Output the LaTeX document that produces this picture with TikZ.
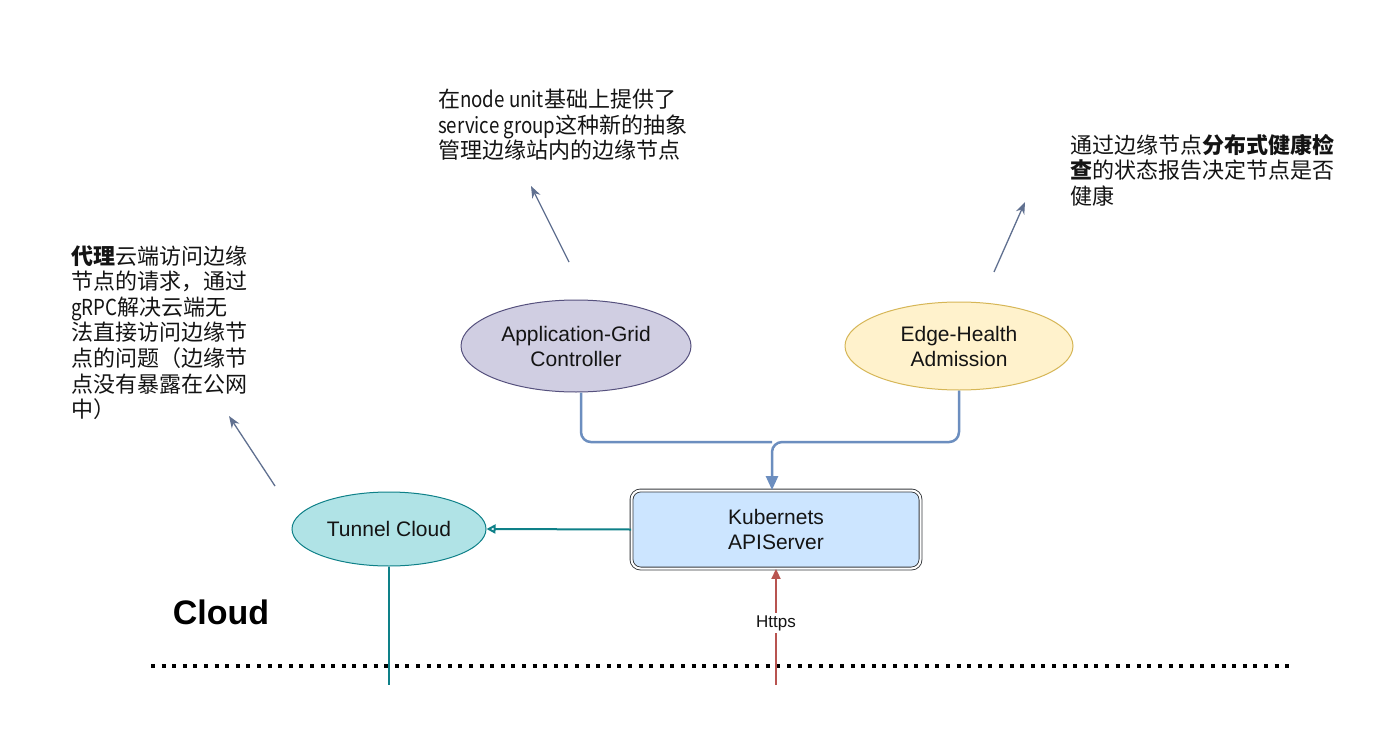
\documentclass[tikz,border=0pt]{standalone}
\usepackage{fontspec}
\setmainfont{Liberation Sans}
\newfontfamily\cjk{Noto Sans CJK SC}
\newfontfamily\cjklat[FakeStretch=0.85]{Noto Sans CJK SC}
\newcommand{\lt}[1]{{\cjklat #1}}
\usetikzlibrary{arrows.meta,shapes.geometric}
\definecolor{tcfill}{RGB}{176,227,230}
\definecolor{tcline}{RGB}{14,128,136}
\definecolor{agfill}{RGB}{208,206,226}
\definecolor{agline}{RGB}{86,81,126}
\definecolor{ehfill}{RGB}{255,242,204}
\definecolor{ehline}{RGB}{214,182,86}
\definecolor{apifill}{RGB}{204,229,255}
\definecolor{apiline}{RGB}{54,57,61}
\definecolor{blueln}{RGB}{108,142,191}
\definecolor{redln}{RGB}{184,84,80}
\definecolor{noteln}{RGB}{96,112,144}
\definecolor{txt}{RGB}{20,20,20}
\tikzset{
  ell/.style={ellipse, draw, line width=1pt, inner sep=0pt, align=center, text=txt,
    font=\fontsize{21}{25}\selectfont},
  note/.style={anchor=north west, inner sep=0pt, align=left, text=txt,
    font=\cjk\fontsize{22}{25.6}\selectfont},
  notearrow/.style={draw=noteln, line width=1.3pt, -{Stealth[length=12pt,width=9pt]}},
  bluearrow/.style={draw=blueln, line width=2.5pt, rounded corners=10pt},
}
\begin{document}
\begin{tikzpicture}[x=1pt,y=-1pt]
\useasboundingbox[fill=white] (0,0) rectangle (1400,744);
% nodes
\node[ell, fill=agfill, draw=agline, minimum width=230pt, minimum height=92pt] (ag) at (576,346) {Application-Grid\\Controller};
\node[ell, fill=ehfill, draw=ehline, minimum width=228pt, minimum height=88pt] (eh) at (959,346) {Edge-Health\\Admission};
\node[ell, fill=tcfill, draw=tcline, minimum width=194pt, minimum height=74pt] (tc) at (389,529) {Tunnel Cloud};
\node[draw=apiline, fill=apifill, double, double distance=2pt, line width=0.9pt, rounded corners=9pt,
  minimum width=289pt, minimum height=78pt, align=center, text=txt,
  font=\fontsize{21}{25}\selectfont] (api) at (776,529.5) {Kubernets\\APIServer};
\node[font=\bfseries\fontsize{34}{40}\selectfont, text=black] (cloud) at (221,612) {Cloud};
% notes
\node[note] (n1) at (71,245) {\textbf{代理}云端访问边缘\\节点的请求，通过\\\lt{gRPC}解决云端无\\法直接访问边缘节\\点的问题（边缘节\\点没有暴露在公网\\中）};
\node[note] (n2) at (438,89) {在\lt{node unit}基础上提供了\\\lt{service group}这种新的抽象\\管理边缘站内的边缘节点};
\node[note] (n3) at (1070,134) {通过边缘节点\textbf{分布式健康检}\\\textbf{查}的状态报告决定节点是否\\健康};
% dotted separator
\coordinate (dl) at (151,666);
\coordinate (dr) at (1292,666);
\draw[line width=4pt, dash pattern=on 4pt off 6.6pt] (dl) -- (dr);
% blue merge connectors
\draw[bluearrow] ([xshift=5pt]ag.south) |- ([xshift=-4pt,yshift=48pt]api.north);
\draw[bluearrow, -{Triangle[length=14pt,width=12pt]}] (eh.south) |- ([xshift=-4pt,yshift=48pt]api.north) -- ([xshift=-4pt]api.north);
% api -> tunnel cloud
\draw[draw=tcline, line width=2pt, -{Triangle[open,length=9pt,width=9pt]}] (api.west) -- (tc.east);
\coordinate (tb) at (389,685);
\draw[draw=tcline, line width=2pt] (tc.south) -- (tb);
% https
\coordinate (rb) at (776,685);
\draw[draw=redln, line width=2pt, -{Triangle[length=10pt,width=9pt]}] (rb) -- node[pos=0.535, fill=white, inner sep=2pt, text=txt, font=\fontsize{17}{20}\selectfont] (https) {Https} (api.south);
% note arrows
\coordinate (a1s) at (275,486); \coordinate (a1e) at (229,416);
\coordinate (a2s) at (569,262); \coordinate (a2e) at (531,186);
\coordinate (a3s) at (994,272); \coordinate (a3e) at (1025,202);
\draw[notearrow] (a1s) -- (a1e);
\draw[notearrow] (a2s) -- (a2e);
\draw[notearrow] (a3s) -- (a3e);
\end{tikzpicture}
\end{document}
